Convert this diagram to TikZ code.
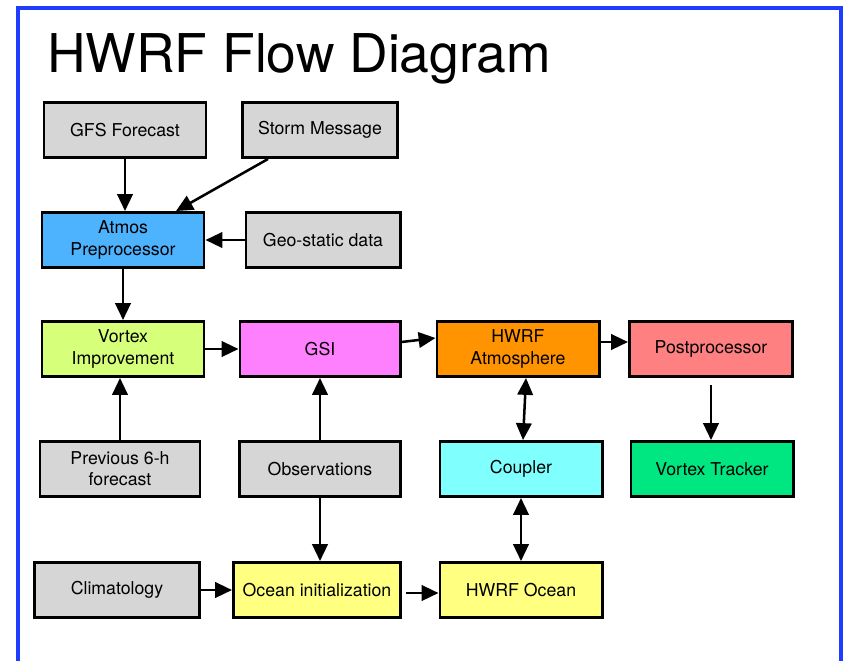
\documentclass[tikz,border=0pt]{standalone}
\usepackage{fontspec}
\setmainfont{TeX Gyre Heros}
\usepackage{xcolor}
\usepackage{tikz}
\usetikzlibrary{arrows.meta, positioning}

\definecolor{framebl}{HTML}{1F3CFF}
\definecolor{grayfill}{HTML}{D6D6D6}
\definecolor{atmosbl}{HTML}{4DB3FF}
\definecolor{vortexgr}{HTML}{D6FF7A}
\definecolor{gsimag}{HTML}{FF80FF}
\definecolor{hwrforg}{HTML}{FF9400}
\definecolor{postred}{HTML}{FF8080}
\definecolor{couplcy}{HTML}{80FFFF}
\definecolor{trackgr}{HTML}{00E680}
\definecolor{oceanyl}{HTML}{FFFF80}

\tikzset{
  box/.style={rectangle, draw=black, fill=grayfill, line width=2.1pt,
              minimum width=4.05cm, minimum height=1.375cm, align=center,
              font=\fontsize{12.6}{15}\selectfont, inner sep=1pt},
  arrow/.style={-{Triangle[length=12pt, width=11pt]}, draw=black, line width=1.8pt},
  darrow/.style={{Triangle[length=12pt, width=11pt]}-{Triangle[length=12pt, width=11pt]},
                 draw=black, line width=1.8pt},
}

\begin{document}
\begin{tikzpicture}[x=0.025cm, y=-0.025cm]
  \useasboundingbox (0,0) rectangle (843,660);

  % frame and title
  \draw[framebl, line width=2.2pt] (18,672) -- (18,8) -- (841,8) -- (841,672);
  \node[anchor=base west, inner sep=0pt, font=\fontsize{38}{40}\selectfont] (title) at (47,72) {HWRF Flow Diagram};

  % top rows
  \node[box] (gfs) at (125,130) {GFS Forecast};
  \node[box, minimum width=3.875cm] (storm) at (320,130) {Storm Message};
  \node[box, fill=atmosbl] (atmos) at (123,240) {Atmos\\Preprocessor};
  \node[box, minimum width=3.85cm] (geo) at (323,240) {Geo-static data};

  % model row
  \node[box, fill=vortexgr] (vortex) at (123,349) {Vortex\\Improvement};
  \node[box, fill=gsimag, minimum width=4cm] (gsi) at (320,349) {GSI};
  \node[box, fill=hwrforg] (hatm) at (518,349) {HWRF\\Atmosphere};
  \node[box, fill=postred, minimum width=4.075cm] (post) at (711,349) {Postprocessor};

  \node[box, minimum width=4cm] (prev) at (120,469) {Previous 6-h\\forecast};
  \node[box, minimum width=4.025cm] (obs) at (320,469) {Observations};
  \node[box, fill=couplcy] (coupler) at (521,469) {Coupler};
  \node[box, fill=trackgr] (tracker) at (712,469) {Vortex Tracker};

  % ocean row
  \node[box, minimum width=4.125cm] (clim) at (117,590) {Climatology};
  \node[box, fill=oceanyl, minimum width=4.175cm] (oinit) at (317,590) {Ocean initialization};
  \node[box, fill=oceanyl] (hocean) at (521,590) {HWRF Ocean};

  % connectors
  \draw[arrow] (gfs.south) -- (gfs.south |- atmos.north);
  \draw[arrow] ([xshift=0.675cm]storm.south west) -- ([xshift=1.325cm]atmos.north);
  \draw[arrow] (geo.west) -- (atmos.east);
  \draw[arrow] (atmos.south) -- (vortex.north);
  \draw[arrow] (vortex.east) -- (gsi.west);
  \draw[arrow] ([yshift=0.175cm]gsi.east) -- ([yshift=0.275cm]hatm.west);
  \draw[arrow] ([yshift=0.175cm]hatm.east) -- ([yshift=0.175cm]post.west);
  \draw[arrow, shorten <=5pt] (post.south) -- (post.south |- tracker.north);
  \draw[darrow] ([xshift=0.2cm]hatm.south) -- ([xshift=0.05cm]coupler.north);
  \draw[darrow] (coupler.south) -- (coupler.south |- hocean.north);
  \draw[arrow] (prev.north) -- (prev.north |- vortex.south);
  \draw[arrow] (obs.north) -- (gsi.south);
  \draw[arrow] (obs.south) -- (obs.south |- oinit.north);
  \draw[arrow] (clim.east) -- (oinit.west);
  \draw[arrow, shorten <=3pt] ([yshift=-0.075cm]oinit.east) -- ([yshift=-0.075cm]hocean.west);
\end{tikzpicture}
\end{document}
